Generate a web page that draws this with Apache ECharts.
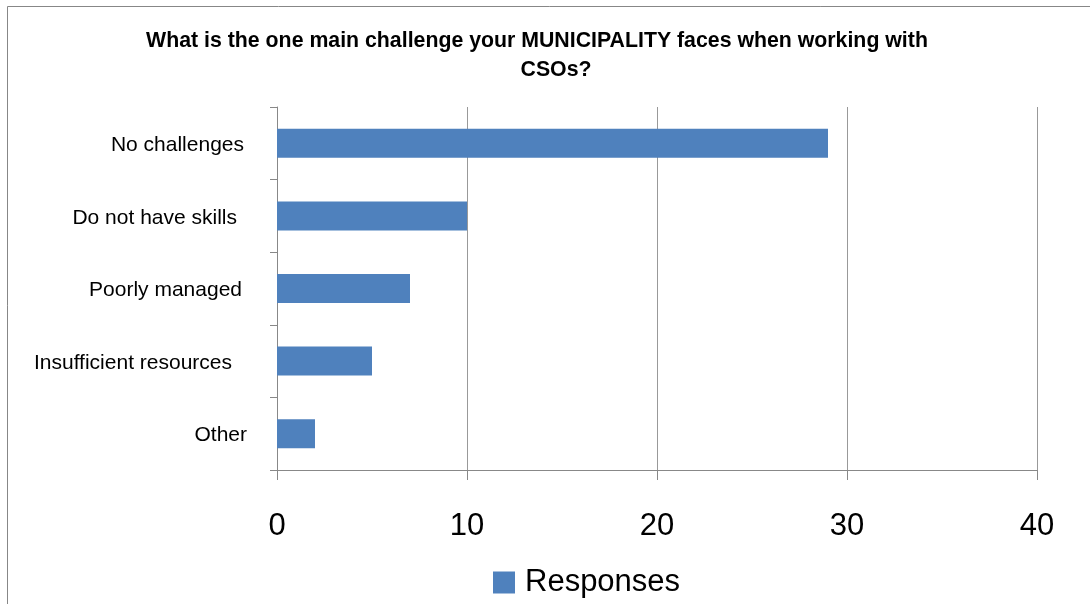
<!DOCTYPE html>
<html>
<head>
<meta charset="utf-8">
<script src="https://cdn.jsdelivr.net/npm/echarts@6/dist/echarts.min.js"></script>
<style>
html,body{margin:0;padding:0;background:#fff;}
#chart{width:1090px;height:604px;}
</style>
</head>
<body>
<div id="chart"></div>
<script>
const titleLine1 = 'What is the one main challenge your MUNICIPALITY faces when working with';
const titleLine2 = 'CSOs?';
const categories = ['No challenges', 'Do not have skills', 'Poorly managed', 'Insufficient resources', 'Other'];
const responses = [29, 10, 7, 5, 2];
const seriesName = 'Responses';
const xTicks = [0, 10, 20, 30, 40];

// per-label right padding (styling only), top to bottom
const labelPad = [3, 10, 5, 15, 0];

const FONT = '"Liberation Sans", Arial, sans-serif';
const chart = echarts.init(document.getElementById('chart'), null, {renderer: 'canvas'});

const rich = {};
labelPad.forEach((p, i) => {
  rich['p' + i] = {fontSize: 21, fontFamily: FONT, color: '#000', padding: [4, p, 0, 0]};
});

chart.setOption({
  animation: false,
  backgroundColor: '#fff',
  textStyle: {fontFamily: FONT},
  graphic: [{
    type: 'rect',
    shape: {x: 7.5, y: 6.5, width: 1200, height: 800},
    style: {fill: 'none', stroke: '#878787', lineWidth: 1},
    silent: true
  }],
  title: [
    {text: titleLine1, left: 537, top: 31, textAlign: 'center', padding: 0,
     textStyle: {fontSize: 21.3, fontWeight: 'bold', color: '#000', fontFamily: FONT}},
    {text: titleLine2, left: 556, top: 60, textAlign: 'center', padding: 0,
     textStyle: {fontSize: 21.3, fontWeight: 'bold', color: '#000', fontFamily: FONT}}
  ],
  legend: {
    data: [seriesName],
    left: 493, top: 567, padding: 0,
    icon: 'rect', itemWidth: 22, itemHeight: 22,
    textStyle: {fontSize: 31, color: '#000', fontFamily: FONT, padding: [0, 0, 0, 5]}
  },
  grid: {left: 277, right: 53, top: 107, bottom: 134, containLabel: false},
  xAxis: {
    type: 'value', min: xTicks[0], max: xTicks[xTicks.length - 1], interval: 10,
    axisLine: {show: true, lineStyle: {color: '#888', width: 1}},
    axisTick: {show: true, length: 10, lineStyle: {color: '#888'}},
    splitLine: {show: true, lineStyle: {color: '#999', width: 1}},
    axisLabel: {fontSize: 31, color: '#000', margin: 41, fontFamily: FONT}
  },
  yAxis: {
    type: 'category', data: categories, inverse: true,
    axisLine: {show: true, lineStyle: {color: '#888', width: 1}},
    axisTick: {show: true, length: 7, lineStyle: {color: '#888'}},
    axisLabel: {
      fontSize: 21, color: '#000', margin: 30, fontFamily: FONT,
      formatter: (v, i) => '{p' + i + '|' + v + '}',
      rich: rich
    }
  },
  series: [{
    name: seriesName, type: 'bar', data: responses,
    barWidth: '40%',
    itemStyle: {color: '#4F81BD'}
  }]
});
</script>
</body>
</html>
